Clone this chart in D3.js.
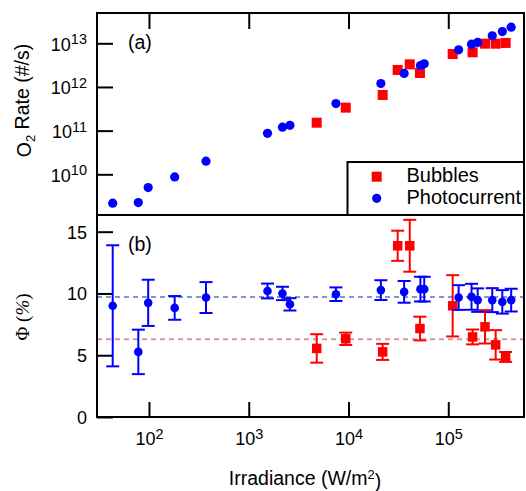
<!DOCTYPE html>
<html>
<head>
<meta charset="utf-8">
<script src="https://cdn.jsdelivr.net/npm/d3@7"></script>
<style>
  html, body { margin: 0; padding: 0; background: #fff; }
  svg { display: block; font-family: "Liberation Sans", Arial, Helvetica, sans-serif; }
</style>
</head>
<body>
<svg id="chart" width="526" height="491"></svg>
<script>
// Photocurrent series: irradiance (W/m^2), O2 rate (#/s), quantum yield Φ (%) and its error
const photoIrr  = [43.3, 78.2, 98.2, 181, 373, 1542, 2178, 2588, 7480, 21100, 36100, 52600, 57400,
                   127000, 171000, 197000, 276000, 348000, 427000];
const photoRate = [2.18e9, 2.25e9, 4.97e9, 8.7e9, 2.0e10, 8.7e10, 1.2e11, 1.32e11, 4.17e11, 1.2e12,
                   2.04e12, 3.09e12, 3.39e12, 7.08e12, 9.55e12, 1.05e13, 1.48e13, 1.86e13, 2.34e13];
const photoPhi  = [9.0, 5.27, 9.24, 8.83, 9.67, 10.2, 10.0, 9.12, 9.94, 10.27, 10.13, 10.35, 10.35,
                   9.67, 9.73, 9.46, 9.46, 9.32, 9.46];
const photoErr  = [4.9, 1.8, 1.87, 0.96, 1.25, 0.6, 0.54, 0.5, 0.55, 0.8, 0.88, 1.0, 1.0,
                   1.0, 1.05, 0.95, 0.97, 0.95, 0.92];

// Bubble-counting series
const bubbleIrr  = [4800, 9380, 22000, 31100, 41100, 52000, 110700, 175400, 233300, 298500, 375800];
const bubbleRate = [1.52e11, 3.36e11, 6.56e11, 2.45e12, 3.30e12, 2.09e12, 5.69e12, 6.22e12, 9.8e12, 9.8e12, 1.02e13];
const bubblePhi  = [5.55, 6.33, 5.27, 13.86, 13.86, 7.16, 9.0, 6.48, 7.3, 5.84, 4.86];
const bubbleErr  = [1.15, 0.5, 0.65, 1.22, 2.1, 0.96, 2.48, 0.6, 1.35, 1.19, 0.4];

// Mean Φ reference levels
const photoMeanPhi = 9.72;
const bubbleMeanPhi = 6.29;

// Tick values
const xTicks = [1e2, 1e3, 1e4, 1e5];
const rateTicks = [1e10, 1e11, 1e12, 1e13];
const phiTicks = [0, 5, 10, 15];

const svg = d3.select("#chart");
const L = 97, R = 524, T = 13, M = 215, B = 417;

const x = d3.scaleLog().domain([Math.pow(10, 1.479), Math.pow(10, 5.759)]).range([L, R]);
const yRate = d3.scaleLog().domain([Math.pow(10, 9.068), Math.pow(10, 13.694)]).range([M, T]);
const yPhi = d3.scaleLinear().domain([0, 16.35]).range([B, M]);

const blue = "#0000ff", red = "#ff0000";

// "10" with a raised exponent
function supText(sel, base, exp, size) {
  sel.text(null);
  sel.append("tspan").text(base);
  sel.append("tspan").attr("dy", -6.5).attr("font-size", size).text(exp);
}

// ---- Axes (inward ticks) ----
function styleAxis(g) {
  g.select(".domain").remove();
  g.attr("font-size", 18).attr("font-family", null);
  g.selectAll(".tick line").attr("stroke", "#000").attr("stroke-width", 2);
  g.selectAll(".tick text").attr("fill", "#000").attr("font-size", 18);
}

// top panel: top edge ticks
svg.append("g").attr("transform", `translate(0,${T})`)
  .call(d3.axisTop(x).tickValues(xTicks).tickSize(-16).tickFormat(""))
  .call(styleAxis);

// top panel: left log axis
svg.append("g").attr("transform", `translate(${L},0)`)
  .call(d3.axisLeft(yRate).tickValues(rateTicks).tickSize(-16).tickPadding(10))
  .call(styleAxis)
  .call(g => g.selectAll(".tick text").attr("dy", 7)
    .each(function (d) { supText(d3.select(this), "10", String(Math.round(Math.log10(d))), 14.5); }));

// bottom panel: left linear axis
svg.append("g").attr("transform", `translate(${L},0)`)
  .call(d3.axisLeft(yPhi).tickValues(phiTicks).tickSize(-16).tickPadding(10).tickFormat(d3.format("d")))
  .call(styleAxis)
  .call(g => g.selectAll(".tick text").attr("dy", 6.5));

// bottom panel: x axis
svg.append("g").attr("transform", `translate(0,${B})`)
  .call(d3.axisBottom(x).tickValues(xTicks).tickSize(-15).tickPadding(10))
  .call(styleAxis)
  .call(g => g.selectAll(".tick text").attr("y", 28).attr("dy", 0)
    .each(function (d) { supText(d3.select(this), "10", String(Math.round(Math.log10(d))), 14.5); }));

// ---- Mean lines in Φ panel ----
svg.append("line").attr("x1", L).attr("x2", R)
  .attr("y1", yPhi(photoMeanPhi)).attr("y2", yPhi(photoMeanPhi))
  .attr("stroke", "#7f95d6").attr("stroke-width", 2).attr("stroke-dasharray", "5,4");
svg.append("line").attr("x1", L).attr("x2", R)
  .attr("y1", yPhi(bubbleMeanPhi)).attr("y2", yPhi(bubbleMeanPhi))
  .attr("stroke", "#d49a9a").attr("stroke-width", 2).attr("stroke-dasharray", "5,4");

// ---- Error bars ----
function errorBars(xs, ys, es, color) {
  const g = svg.append("g").attr("stroke", color).attr("stroke-width", 2).attr("fill", "none");
  const cap = 6.5;
  xs.forEach((xv, i) => {
    const cx = x(xv), y0 = yPhi(ys[i] - es[i]), y1 = yPhi(ys[i] + es[i]);
    g.append("line").attr("x1", cx).attr("x2", cx).attr("y1", y0).attr("y2", y1);
    g.append("line").attr("x1", cx - cap).attr("x2", cx + cap).attr("y1", y0).attr("y2", y0);
    g.append("line").attr("x1", cx - cap).attr("x2", cx + cap).attr("y1", y1).attr("y2", y1);
  });
}

function squares(xs, ys, yScale, size) {
  svg.append("g").selectAll("rect").data(xs).join("rect")
    .attr("x", d => x(d) - size / 2)
    .attr("y", (d, i) => yScale(ys[i]) - size / 2)
    .attr("width", size).attr("height", size).attr("fill", red);
}
function circles(xs, ys, yScale, r) {
  svg.append("g").selectAll("circle").data(xs).join("circle")
    .attr("cx", d => x(d))
    .attr("cy", (d, i) => yScale(ys[i]))
    .attr("r", r).attr("fill", blue);
}

// Φ panel marks
errorBars(bubbleIrr, bubblePhi, bubbleErr, red);
squares(bubbleIrr, bubblePhi, yPhi, 9.5);
errorBars(photoIrr, photoPhi, photoErr, blue);
circles(photoIrr, photoPhi, yPhi, 4.3);

// Rate panel marks
squares(bubbleIrr, bubbleRate, yRate, 10);
circles(photoIrr, photoRate, yRate, 4.6);

// ---- Frames ----
svg.append("rect").attr("x", L).attr("y", T).attr("width", R - L).attr("height", M - T)
  .attr("fill", "none").attr("stroke", "#000").attr("stroke-width", 2);
svg.append("rect").attr("x", L).attr("y", M).attr("width", R - L).attr("height", B - M)
  .attr("fill", "none").attr("stroke", "#000").attr("stroke-width", 2);

// ---- Legend ----
const lg = svg.append("g");
lg.append("rect").attr("x", 347.5).attr("y", 162).attr("width", R - 347.5).attr("height", M - 162)
  .attr("fill", "#fff").attr("stroke", "#000").attr("stroke-width", 2);
lg.append("rect").attr("x", 371.7).attr("y", 171.7).attr("width", 10).attr("height", 10).attr("fill", red);
lg.append("circle").attr("cx", 376.7).attr("cy", 198.3).attr("r", 4.6).attr("fill", blue);
lg.append("text").attr("x", 406.5).attr("y", 182).attr("font-size", 20).text("Bubbles");
lg.append("text").attr("x", 406.5).attr("y", 203.5).attr("font-size", 20).text("Photocurrent");

// ---- Panel tags ----
svg.append("text").attr("x", 128).attr("y", 48.5).attr("font-size", 19.5).text("(a)");
svg.append("text").attr("x", 128).attr("y", 250.5).attr("font-size", 19.5).text("(b)");

// ---- Axis titles ----
const xt = svg.append("text").attr("x", 305).attr("y", 485).attr("text-anchor", "middle").attr("font-size", 19.5);
xt.append("tspan").text("Irradiance (W/m");
xt.append("tspan").attr("dy", "-0.45em").attr("font-size", 13).text("2");
xt.append("tspan").attr("dy", "0.45em").text(")");

const yt = svg.append("text").attr("transform", "translate(31,100.5) rotate(-90)")
  .attr("text-anchor", "middle").attr("font-size", 19.5);
yt.append("tspan").text("O");
yt.append("tspan").attr("dy", "0.3em").attr("font-size", 13).text("2");
yt.append("tspan").attr("dy", "-0.3em").text(" Rate (#/s)");

const pt = svg.append("text").attr("transform", "translate(29,317) rotate(-90)")
  .attr("text-anchor", "middle").attr("font-size", 19)
  .attr("font-family", "'Liberation Serif', 'DejaVu Serif', serif");
pt.append("tspan").text("Φ (");
pt.append("tspan").attr("font-style", "italic").text("%");
pt.append("tspan").text(")");
</script>
</body>
</html>
